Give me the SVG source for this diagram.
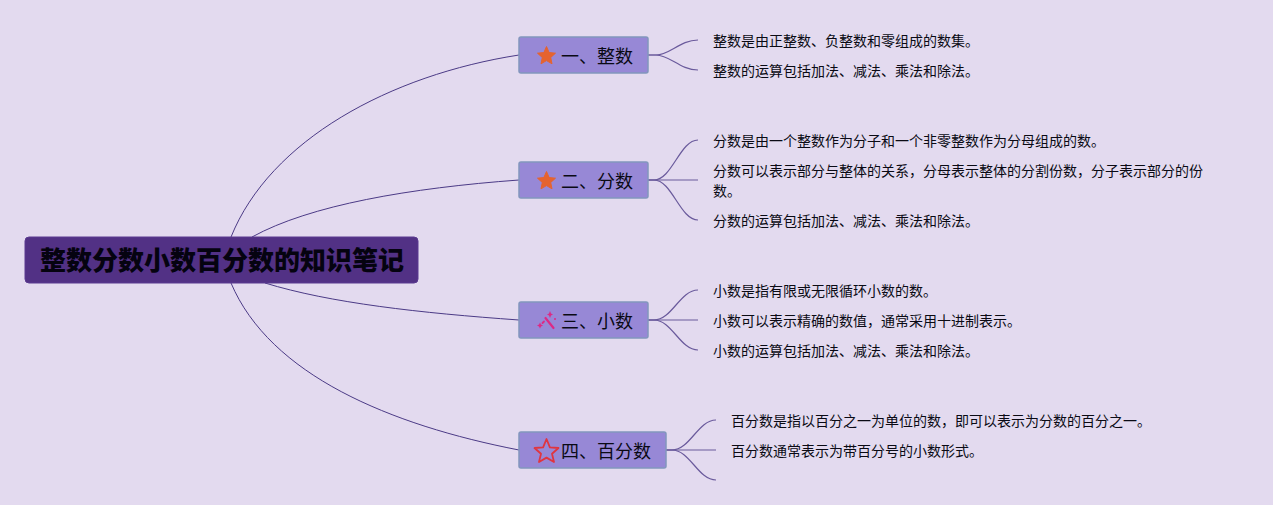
<svg xmlns="http://www.w3.org/2000/svg" width="1273" height="505" viewBox="0 0 1273 505">
<style>
text{font-family:"Noto Sans CJK SC","Liberation Sans",sans-serif}
.root{fill:#523185;stroke:#5b3a90;stroke-width:1}
.topic{fill:#9788d6;stroke:#8296bd;stroke-width:1.5}
.rt{font-size:26px;font-weight:900;fill:#050310}
.tt{font-size:18px;fill:#0a0a14}
.lt{font-size:14px;fill:#0a0a14}
.c{fill:none;stroke:#4b3a86;stroke-width:1}
.b{fill:none;stroke:#6a5a9c;stroke-width:1.2}
</style>
<rect width="1273" height="505" fill="#e3daef"/>
<g id="connectors">
<path class="c" d="M231 237C270 140 390 75 519 55"/>
<path class="c" d="M252 237C310 205 410 188 519 180"/>
<path class="c" d="M265 283C330 303 420 313 519 320"/>
<path class="c" d="M231 283C270 375 390 425 519 450"/>
<path class="b" d="M648 55H656C670 55 680 40 698 40"/>
<path class="b" d="M648 55H656C670 55 680 70 698 70"/>
<path class="b" d="M648 180H654C672 180 680 140 698 140"/>
<path class="b" d="M648 180H698"/>
<path class="b" d="M648 180H654C672 180 680 220 698 220"/>
<path class="b" d="M648 320H654C672 320 680 290 698 290"/>
<path class="b" d="M648 320H698"/>
<path class="b" d="M648 320H654C672 320 680 350 698 350"/>
<path class="b" d="M666 450H672C690 450 698 420 716 420"/>
<path class="b" d="M666 450H716"/>
<path class="b" d="M666 450H672C690 450 698 480 716 480"/>
</g>
<g id="root"><rect class="root" x="25" y="237" width="393" height="46" rx="4"/><text class="rt" x="222" y="270" text-anchor="middle" textLength="364" lengthAdjust="spacingAndGlyphs">整数分数小数百分数的知识笔记</text></g>
<g id="topic1"><rect class="topic" x="519" y="37" width="129" height="36" rx="2"/>
<polygon fill="#e5632f" stroke="#e5632f" stroke-width="1" stroke-linejoin="round" points="546.500,46.500 549.100,52.500 555.500,53.200 550.700,57.500 552,63.800 546.500,60.600 541,63.800 542.300,57.500 537.500,53.200 543.900,52.500"/>
<text class="tt" x="561" y="63">一、整数</text></g>
<g id="topic2"><rect class="topic" x="519" y="162" width="129" height="36" rx="2"/>
<polygon fill="#e5632f" stroke="#e5632f" stroke-width="1" stroke-linejoin="round" points="546.500,171.500 549.100,177.500 555.500,178.200 550.700,182.500 552,188.800 546.500,185.600 541,188.800 542.300,182.500 537.500,178.200 543.900,177.500"/>
<text class="tt" x="561" y="188">二、分数</text></g>
<g id="topic3"><rect class="topic" x="519" y="302" width="129" height="36" rx="2"/>
<path d="M545.500 318L553.500 328" stroke="#dc2a86" stroke-width="2.2" fill="none" stroke-linecap="round"/>
<path d="M544 321.500l-1.500 1.500" stroke="#dc2a86" stroke-width="1.8" fill="none" stroke-linecap="round"/>
<polygon fill="#dc2a86" points="540,322.500 541,324.500 543,325.500 541,326.500 540,328.500 539,326.500 537,325.500 539,324.500"/>
<polygon fill="#dc2a86" points="550,311 551,313.500 553,314.500 551,315.500 550,318 549,315.500 547,314.500 549,313.500"/>
<circle cx="555" cy="319" r="1" fill="#dc2a86"/>
<text class="tt" x="561" y="328">三、小数</text></g>
<g id="topic4"><rect class="topic" x="519" y="432" width="147" height="36" rx="2"/>
<polygon fill="none" stroke="#e0353f" stroke-width="1.8" stroke-linejoin="round" points="546.500,439 549.900,447.300 558.500,448 552,453.700 554,462 546.500,457.600 539,462 541,453.700 534.500,448 543.100,447.300"/>
<text class="tt" x="561" y="458">四、百分数</text></g>
<g id="leaves">
<text class="lt" x="713" y="46">整数是由正整数、负整数和零组成的数集。</text>
<text class="lt" x="713" y="76">整数的运算包括加法、减法、乘法和除法。</text>
<text class="lt" x="713" y="146">分数是由一个整数作为分子和一个非零整数作为分母组成的数。</text>
<text class="lt" x="713" y="176">分数可以表示部分与整体的关系，分母表示整体的分割份数，分子表示部分的份</text>
<text class="lt" x="713" y="196">数。</text>
<text class="lt" x="713" y="226">分数的运算包括加法、减法、乘法和除法。</text>
<text class="lt" x="713" y="296">小数是指有限或无限循环小数的数。</text>
<text class="lt" x="713" y="326">小数可以表示精确的数值，通常采用十进制表示。</text>
<text class="lt" x="713" y="356">小数的运算包括加法、减法、乘法和除法。</text>
<text class="lt" x="731" y="426">百分数是指以百分之一为单位的数，即可以表示为分数的百分之一。</text>
<text class="lt" x="731" y="456">百分数通常表示为带百分号的小数形式。</text>
</g>
</svg>
